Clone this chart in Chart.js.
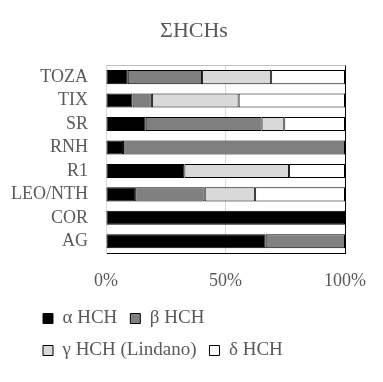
<!DOCTYPE html>
<html>
<head>
<meta charset="utf-8">
<script src="https://cdn.jsdelivr.net/npm/chart.js@4/dist/chart.umd.min.js"></script>
<style>
  html, body { margin: 0; padding: 0; background: #ffffff; }
  #wrap { width: 383px; height: 382px; }
</style>
</head>
<body>
<div id="wrap"><canvas id="c" width="383" height="382"></canvas></div>
<script>
const chartTitle = 'ΣHCHs';
const categories = ['TOZA', 'TIX', 'SR', 'RNH', 'R1', 'LEO/NTH', 'COR', 'AG'];
const seriesNames = ['α HCH', 'β HCH', 'γ HCH (Lindano)', 'δ HCH'];
const alphaHCH = [9.1, 11.1, 16.6, 7.1, 32.8, 12.2, 100, 66.8];
const betaHCH  = [31.1, 8.1, 48.5, 92.9, 0, 29.1, 0, 33.2];
const gammaHCH = [28.9, 36.3, 9.5, 0, 43.8, 21.1, 0, 0];
const deltaHCH = [30.9, 44.5, 25.4, 0, 23.4, 37.6, 0, 0];
const xTicks = [0, 50, 100];

const FONT = "'Liberation Serif', 'Times New Roman', serif";
const TEXT = '#595959';
const fills = ['#000000', '#808080', '#d9d9d9', '#ffffff'];
const values = [alphaHCH, betaHCH, gammaHCH, deltaHCH];

const datasets = seriesNames.map((name, i) => ({
  label: name,
  data: values[i],
  backgroundColor: fills[i],
  borderColor: '#000000',
  borderWidth: 1,
  borderSkipped: false,
  categoryPercentage: 1.0,
  barPercentage: 0.6
}));

// let the category labels use the space left of the axis box (no clipping)
const unclipYLabels = {
  id: 'unclipYLabels',
  afterLayout(chart) { chart.scales.y.left = 0; }
};

new Chart(document.getElementById('c'), {
  type: 'bar',
  data: { labels: categories, datasets },
  plugins: [unclipYLabels],
  options: {
    indexAxis: 'y',
    responsive: false,
    animation: false,
    layout: { padding: { left: 30, right: 25, top: 0, bottom: 12 } },
    scales: {
      x: {
        stacked: true,
        min: 0,
        max: 100,
        afterBuildTicks: (s) => { s.ticks = xTicks.map(v => ({ value: v })); },
        afterFit: (s) => { s.height = 43; },
        ticks: {
          padding: 17,
          color: TEXT,
          font: { family: FONT, size: 18 },
          callback: (v) => v + '%'
        },
        grid: {
          drawTicks: false,
          color: (ctx) => (ctx.tick && ctx.tick.value === 100) ? '#000000' : '#d9d9d9',
          lineWidth: 1
        },
        border: { display: true, color: '#000000', width: 1 }
      },
      y: {
        stacked: true,
        afterFit: (s) => { s.width = 76; },
        ticks: {
          autoSkip: false,
          padding: 18,
          color: TEXT,
          font: { family: FONT, size: 18 }
        },
        grid: {
          offset: true,
          drawTicks: false,
          color: (ctx) => ctx.index === 0 ? '#bfbfbf' : 'rgba(0,0,0,0)'
        },
        border: { display: true, color: '#d9d9d9', width: 1 }
      }
    },
    plugins: {
      title: {
        display: true,
        text: chartTitle,
        color: TEXT,
        font: { family: FONT, size: 22, weight: 'normal' },
        padding: { top: 18, bottom: 21 }
      },
      legend: {
        display: true,
        position: 'bottom',
        align: 'start',
        labels: {
          boxWidth: 10,
          boxHeight: 10,
          padding: 13,
          color: TEXT,
          font: { family: FONT, size: 19 }
        }
      },
      tooltip: { enabled: false }
    }
  }
});
</script>
</body>
</html>
